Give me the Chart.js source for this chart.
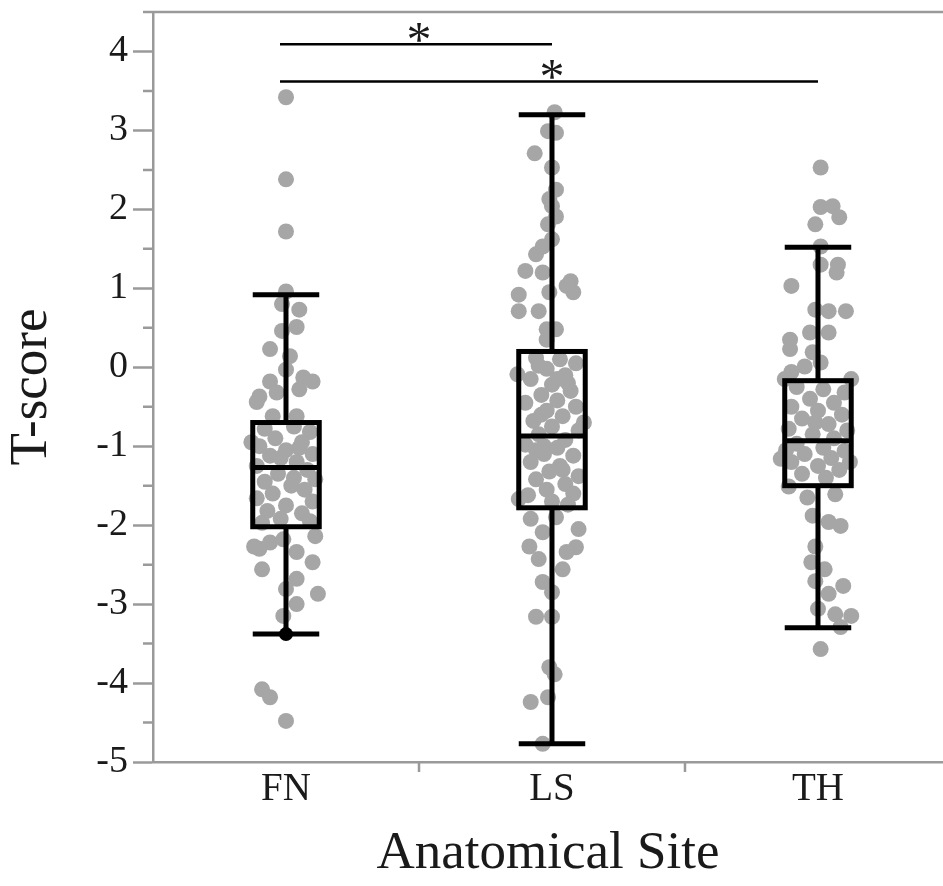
<!DOCTYPE html>
<html>
<head>
<meta charset="utf-8">
<script src="https://cdn.jsdelivr.net/npm/chart.js@4.4.0/dist/chart.umd.min.js"></script>
<style>
    html, body { margin: 0; padding: 0; background: #fff; overflow: hidden; }
</style>
</head>
<body>
<canvas id="boxChart" width="943" height="886"></canvas>
<script>
const categories = ["FN", "LS", "TH"];
const yTickValues = [-5, -4, -3, -2, -1, 0, 1, 2, 3, 4];

// box summary per site (same order as categories)
const whiskerLow = [-3.38, -4.77, -3.30];
const quartile1 = [-2.02, -1.78, -1.50];
const medians = [-1.27, -0.87, -0.93];
const quartile3 = [-0.70, 0.20, -0.17];
const whiskerHigh = [0.92, 3.20, 1.52];

// individual T-scores: [jitter offset from category centre, value]
const fnPoints = [
    [0, 3.42], [0, 2.38], [0, 1.72], [0, 0.96], [-0.015, 0.80], [0.05, 0.73], [0.04, 0.51],
    [-0.015, 0.46], [-0.06, 0.23], [0.015, 0.14], [0, -0.03], [0.10, -0.18], [0.065, -0.13],
    [-0.06, -0.18], [-0.10, -0.37], [-0.035, -0.32], [-0.11, -0.44], [0.05, -0.28],
    [0.04, -0.62], [-0.05, -0.62],
    [-0.08, -0.78], [0.03, -0.75], [0.09, -0.82], [-0.04, -0.90], [0.06, -0.95], [-0.10, -1.00],
    [0.00, -1.05], [0.10, -1.10], [-0.06, -1.12], [0.04, -1.20], [-0.11, -1.25], [0.08, -1.30],
    [-0.03, -1.35], [0.11, -1.42], [-0.08, -1.45], [0.02, -1.50], [0.07, -1.55], [-0.05, -1.60],
    [-0.11, -1.66], [0.10, -1.70], [0.00, -1.75], [-0.07, -1.82], [0.06, -1.85], [-0.02, -1.92],
    [0.09, -1.95], [-0.09, -1.97], [0.03, -1.40], [-0.02, -1.15], [0.05, -1.02], [-0.13, -0.95],
    [-0.10, -2.30], [-0.06, -2.22], [-0.09, -2.56], [0.10, -2.47], [0.04, -2.34], [-0.01, -2.18],
    [0.04, -2.68], [0.12, -2.87], [0, -2.81], [0.04, -3.00], [-0.01, -3.15], [-0.12, -2.27],
    [0.11, -2.14], [-0.09, -4.08], [-0.06, -4.18], [0, -4.48]
];
const lsPoints = [
    [0.01, 3.23], [-0.015, 2.99], [0.015, 2.97], [-0.065, 2.71], [0, 2.53], [0.015, 2.25],
    [-0.01, 2.13], [0, 2.04], [0.015, 1.91], [-0.015, 1.81], [0, 1.62], [-0.06, 1.43],
    [-0.035, 1.53], [-0.10, 1.22], [-0.035, 1.20], [0.07, 1.09], [0.08, 0.95], [-0.125, 0.92],
    [0.055, 1.03], [-0.125, 0.71], [-0.05, 0.71], [-0.02, 0.48], [0.015, 0.48], [-0.01, 0.95],
    [-0.02, 0.35], [-0.13, -0.09],
    [-0.06, 0.12], [0.03, 0.10], [0.09, 0.05], [-0.02, -0.02], [0.05, -0.10], [-0.08, -0.15],
    [0.00, -0.22], [0.07, -0.30], [-0.04, -0.35], [0.02, -0.42], [-0.10, -0.45], [0.09, -0.50],
    [-0.02, -0.55], [0.04, -0.62], [-0.07, -0.68], [0.00, -0.75], [0.10, -0.80], [-0.05, -0.85],
    [0.05, -0.92], [-0.10, -0.98], [0.02, -1.02], [-0.03, -1.10], [0.08, -1.12], [-0.08, -1.20],
    [0.03, -1.25], [-0.01, -1.32], [0.10, -1.38], [-0.06, -1.42], [0.05, -1.48], [-0.02, -1.55],
    [0.08, -1.60], [-0.09, -1.62], [0.00, -1.70], [0.06, -1.74], [-0.04, -0.60], [0.06, -0.20],
    [-0.03, -1.00], [0.12, -0.70], [-0.05, 0.02], [0.04, -1.30], [-0.06, -1.05], [0.02, -0.15],
    [-0.125, -1.67], [-0.08, -1.92], [0.015, -1.90], [-0.085, -2.27], [0.09, -2.28], [0.055, -2.34],
    [-0.05, -2.43], [0.04, -2.56], [-0.035, -2.72], [0, -2.85], [-0.06, -3.16], [0, -3.16],
    [-0.01, -3.80], [0.01, -3.89], [-0.08, -4.24], [-0.015, -4.18], [-0.035, -4.77],
    [0.10, -2.05], [-0.035, -2.09]
];
const thPoints = [
    [0.01, 2.53], [0.01, 2.03], [0.055, 2.04], [0.08, 1.90], [-0.01, 1.81], [0.01, 1.53],
    [0.01, 1.30], [0.075, 1.30], [0.07, 1.20], [-0.10, 1.03], [0.105, 0.71], [-0.01, 0.73],
    [0.04, 0.71], [-0.03, 0.44], [0.04, 0.44], [-0.105, 0.35], [-0.105, 0.23], [-0.02, 0.19],
    [0.01, 0.06], [-0.05, 0.01], [-0.10, -0.06], [-0.125, -0.15], [0.125, -0.15],
    [-0.08, -0.25], [0.02, -0.28], [0.10, -0.32], [-0.03, -0.40], [0.06, -0.45], [-0.10, -0.50],
    [0.00, -0.55], [0.09, -0.60], [-0.06, -0.65], [0.04, -0.72], [-0.11, -0.78], [0.11, -0.80],
    [-0.02, -0.85], [0.06, -0.90], [-0.08, -0.97], [0.02, -1.02], [0.10, -1.06], [-0.05, -1.10],
    [0.05, -1.15], [-0.10, -1.20], [0.00, -1.25], [0.08, -1.30], [-0.06, -1.35], [0.03, -1.40],
    [-0.12, -1.05], [0.12, -1.20], [-0.01, -0.70],
    [-0.14, -1.16], [-0.11, -1.51], [-0.04, -1.65], [0.065, -1.61], [0.085, -2.01], [0.04, -1.96],
    [-0.02, -1.88], [-0.01, -2.27], [-0.025, -2.47], [0.025, -2.56], [-0.01, -2.71], [0.095, -2.77],
    [0.04, -2.87], [0, -3.06], [0.065, -3.13], [0.125, -3.15], [0.085, -3.29], [0.01, -3.57]
];
// point drawn in black on the FN lower whisker
const markedPoints = [[0, -3.38]];

// significance brackets
const sigFrom = [0, 0];
const sigTo = [1, 2];
const sigLevel = [4.09, 3.62];
const sigText = ["*", "*"];

const serif = "'Liberation Serif', 'Times New Roman', serif";
const axisGrey = "#9a9a9a";
const textColor = "#1a1a1a";

function toXY(points, catIndex) {
    return points.map(p => ({ x: catIndex + p[0], y: p[1] }));
}

const boxPlotPlugin = {
    id: "boxPlot",
    afterDatasetsDraw(chart) {
        const { ctx, chartArea } = chart;
        const x = chart.scales.x;
        const y = chart.scales.y;
        ctx.save();

        // minor ticks, top frame and category separators
        ctx.strokeStyle = axisGrey;
        ctx.lineWidth = 2.5;
        ctx.beginPath();
        for (let v = -4.5; v <= 4.5; v += 1) {
            const py = y.getPixelForValue(v);
            ctx.moveTo(chartArea.left - 10, py);
            ctx.lineTo(chartArea.left, py);
        }
        ctx.moveTo(chartArea.left, chartArea.top);
        ctx.lineTo(chartArea.right, chartArea.top);
        for (let i = 0; i < categories.length - 1; i++) {
            const px = x.getPixelForValue(i + 0.5);
            ctx.moveTo(px, chartArea.bottom);
            ctx.lineTo(px, chartArea.bottom + 10);
        }
        ctx.stroke();

        // boxes and whiskers
        ctx.strokeStyle = "#000";
        ctx.lineWidth = 5;
        categories.forEach((c, i) => {
            const cx = x.getPixelForValue(i);
            const half = x.getPixelForValue(i + 0.125) - cx;
            const yLo = y.getPixelForValue(whiskerLow[i]);
            const yQ1 = y.getPixelForValue(quartile1[i]);
            const yMed = y.getPixelForValue(medians[i]);
            const yQ3 = y.getPixelForValue(quartile3[i]);
            const yHi = y.getPixelForValue(whiskerHigh[i]);
            ctx.beginPath();
            ctx.moveTo(cx, yLo); ctx.lineTo(cx, yQ1);
            ctx.moveTo(cx, yQ3); ctx.lineTo(cx, yHi);
            ctx.moveTo(cx - half, yLo); ctx.lineTo(cx + half, yLo);
            ctx.moveTo(cx - half, yHi); ctx.lineTo(cx + half, yHi);
            ctx.moveTo(cx - half, yMed); ctx.lineTo(cx + half, yMed);
            ctx.stroke();
            ctx.strokeRect(cx - half, yQ3, half * 2, yQ1 - yQ3);
        });

        // significance brackets
        ctx.lineWidth = 2.5;
        ctx.fillStyle = textColor;
        ctx.font = "50px " + serif;
        ctx.textAlign = "center";
        ctx.textBaseline = "alphabetic";
        sigLevel.forEach((lvl, i) => {
            const py = y.getPixelForValue(lvl);
            const x0 = x.getPixelForValue(sigFrom[i]) - 6;
            const x1 = x.getPixelForValue(sigTo[i]);
            ctx.beginPath();
            ctx.moveTo(x0, py);
            ctx.lineTo(x1, py);
            ctx.stroke();
            ctx.fillText(sigText[i], (x0 + x1) / 2 + 3, py + 12);
        });
        ctx.restore();
    }
};

const pointStyle = {
    backgroundColor: "#a6a6a6",
    borderWidth: 0,
    pointRadius: 8,
    pointHoverRadius: 8
};

const chart = new Chart(document.getElementById("boxChart").getContext("2d"), {
    type: "scatter",
    data: {
        datasets: [
            { label: "FN", data: toXY(fnPoints, 0), ...pointStyle },
            { label: "LS", data: toXY(lsPoints, 1), ...pointStyle },
            { label: "TH", data: toXY(thPoints, 2), ...pointStyle },
            { label: "marked", data: toXY(markedPoints, 0), backgroundColor: "#000", borderWidth: 0, pointRadius: 7 }
        ]
    },
    options: {
        responsive: false,
        animation: false,
        layout: { autoPadding: false, padding: { top: 12, left: 0, right: 0, bottom: 0 } },
        plugins: {
            legend: { display: false },
            tooltip: { enabled: false }
        },
        scales: {
            x: {
                type: "linear",
                min: -0.5,
                max: 2.47,
                afterBuildTicks: s => { s.ticks = categories.map((c, i) => ({ value: i })); },
                afterFit: s => { s.height = 124; s.paddingLeft = 0; s.paddingRight = 0; },
                ticks: {
                    color: textColor,
                    font: { family: serif, size: 39 },
                    padding: 4,
                    maxRotation: 0,
                    autoSkip: false,
                    callback: v => categories[v]
                },
                grid: { display: false, drawTicks: false },
                border: { color: axisGrey, width: 2.5 },
                title: {
                    display: true,
                    text: "Anatomical Site",
                    color: textColor,
                    font: { family: serif, size: 53 },
                    padding: { top: 0, bottom: 0 }
                }
            },
            y: {
                type: "linear",
                min: -5,
                max: 4.5,
                afterBuildTicks: s => { s.ticks = yTickValues.map(v => ({ value: v })); },
                afterFit: s => { s.width = 153; s.paddingTop = 0; s.paddingBottom = 0; },
                ticks: {
                    color: textColor,
                    font: { family: serif, size: 38 },
                    padding: 5,
                    callback: v => String(v)
                },
                grid: { drawOnChartArea: false, tickLength: 20, tickColor: axisGrey, tickWidth: 2.5 },
                border: { color: axisGrey, width: 2.5 },
                title: {
                    display: true,
                    text: "T-score",
                    color: textColor,
                    font: { family: serif, size: 53 },
                    padding: 0
                }
            }
        }
    },
    plugins: [boxPlotPlugin]
});
</script>
</body>
</html>
